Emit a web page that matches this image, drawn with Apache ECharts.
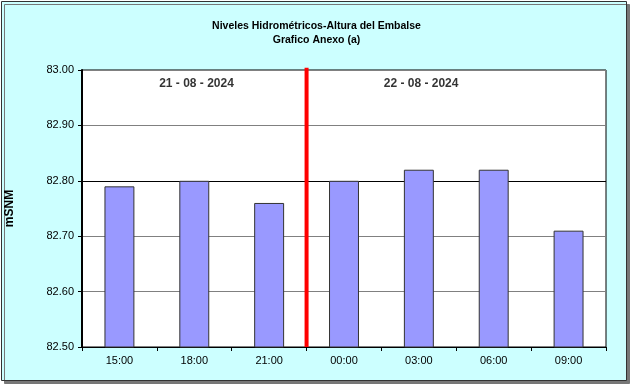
<!DOCTYPE html>
<html><head><meta charset="utf-8">
<script src="https://cdn.jsdelivr.net/npm/echarts@6/dist/echarts.min.js"></script>
<style>html,body{margin:0;padding:0;background:#fff}#c{width:633px;height:386px}</style>
</head><body><div id="c"></div>
<script>
const categories = ['15:00','18:00','21:00','00:00','03:00','06:00','09:00'];
const levels = [82.79, 82.80, 82.76, 82.80, 82.82, 82.82, 82.71];
const dayLabels = ['21 - 08 - 2024', '22 - 08 - 2024'];
const dayLabelPos = [1.53, 4.53];
const dayChangeIndex = 3;
const yMin = 82.5, yMax = 83.0, yStep = 0.1;

const chart = echarts.init(document.getElementById('c'));
const font = 'Liberation Sans, Arial, sans-serif';
chart.setOption({
  animation: false,
  backgroundColor: 'transparent',
  graphic: [{
    type: 'rect', left: 1, top: 1, z: -10,
    shape: {width: 625, height: 379},
    style: {fill: '#CCFFFF', stroke: '#333', lineWidth: 1, shadowColor: '#777', shadowOffsetX: 3, shadowOffsetY: 3, shadowBlur: 0}
  }],
  title: {
    text: 'Niveles Hidrométricos-Altura del Embalse\nGrafico Anexo (a)',
    left: 'center', top: 14,
    textStyle: {fontFamily: font, fontSize: 10.5, fontWeight: 'bold', color: '#000', lineHeight: 14}
  },
  grid: {left: 82, right: 27, top: 70, bottom: 39, outerBoundsMode: 'none', containLabel: false, show: true, backgroundColor: '#fff', borderColor: '#000', borderWidth: 1},
  xAxis: [{
    type: 'category', data: categories,
    axisLine: {lineStyle: {color: '#000', width: 1}},
    axisTick: {show: true, alignWithLabel: false, length: 4, lineStyle: {color: '#000'}},
    axisLabel: {fontFamily: font, fontSize: 11, color: '#000', margin: 8}
  }, {
    type: 'value', min: 0, max: 7, show: false
  }],
  yAxis: {
    type: 'value', min: yMin, max: yMax, interval: yStep,
    name: 'mSNM', nameLocation: 'middle', nameGap: 66, nameRotate: 90,
    nameTextStyle: {fontFamily: font, fontSize: 12, fontWeight: 'bold', color: '#000'},
    axisLine: {show: true, lineStyle: {color: '#000', width: 2}},
    axisTick: {show: true, length: 4, lineStyle: {color: '#000'}},
    axisLabel: {fontFamily: font, fontSize: 11, color: '#000', margin: 8, formatter: v => v.toFixed(2)},
    splitLine: {lineStyle: {color: ['#808080','#808080','#808080','#000','#808080','#808080'], width: 1}}
  },
  series: [{
    type: 'bar', data: levels, barWidth: '40%',
    itemStyle: {color: '#9999FF', borderColor: '#333', borderWidth: 1}
  }, {
    type: 'line', xAxisIndex: 1, data: [[dayChangeIndex, yMin], [dayChangeIndex, yMax + 0.004]],
    symbol: 'none', clip: false, lineStyle: {color: '#FF0000', width: 4}, z: 5
  }, {
    type: 'scatter', xAxisIndex: 1, symbolSize: 0,
    data: dayLabels.map((t, i) => ({value: [dayLabelPos[i], 82.975], name: t})),
    label: {show: true, position: 'inside', formatter: p => p.name, fontFamily: font, fontSize: 12, fontWeight: 'bold', color: '#000'}
  }]
});
</script></body></html>
